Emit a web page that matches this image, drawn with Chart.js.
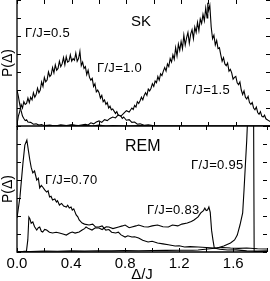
<!DOCTYPE html>
<html>
<head>
<meta charset="utf-8">
<script src="https://cdn.jsdelivr.net/npm/chart.js@4.4.1/dist/chart.umd.min.js"></script>
<style>
  html, body { margin: 0; padding: 0; background: #fff; width: 270px; height: 281px; overflow: hidden; }
  body { position: relative; font-family: "Liberation Sans", Arial, sans-serif; color: #000; }
  .box { position: absolute; left: 0; width: 270px; }
  #topBox { top: 0; height: 127px; }
  #botBox { top: 126px; height: 158px; }
  .lbl { position: absolute; line-height: 1; white-space: nowrap; font-size: 13px; letter-spacing: 0.3px; }
  .big { font-size: 15px; letter-spacing: 0; }
</style>
</head>
<body>
<div class="box" id="topBox"><canvas id="topChart" width="270" height="127"></canvas></div>
<div class="box" id="botBox"><canvas id="botChart" width="270" height="158"></canvas></div>

<div class="lbl big" style="left:131px;top:13px;">SK</div>
<div class="lbl" style="left:25px;top:26px;">Γ/J=0.5</div>
<div class="lbl" style="left:97px;top:61px;">Γ/J=1.0</div>
<div class="lbl" style="left:185px;top:83px;">Γ/J=1.5</div>
<div class="lbl big" style="left:125px;top:138px;font-size:16px;">REM</div>
<div class="lbl" style="left:45px;top:173px;">Γ/J=0.70</div>
<div class="lbl" style="left:147px;top:203px;">Γ/J=0.83</div>
<div class="lbl" style="left:191px;top:158px;">Γ/J=0.95</div>

<script>
// x range and ticks
const xMin = 0, xMax = 1.85, xStep = 0.2;
const yMax = 7;
const xTickLabels = ['0.0', '0.4', '0.8', '1.2', '1.6'];

// SK panel
const sk05X = [0, 0.01, 0.02, 0.03, 0.04, 0.05, 0.06, 0.07, 0.08, 0.1, 0.12, 0.14, 0.16, 0.18, 0.2, 0.24, 0.28, 0.32, 0.36, 0.4, 0.45, 0.5, 0.55, 0.6, 0.65, 0.7, 0.8, 0.9, 1.0, 1.2, 1.4, 1.6, 1.85];
const sk05Y = [2.0, 1.65, 1.2, 0.85, 0.55, 0.42, 0.3, 0.35, 0.22, 0.2, 0.1, 0.12, 0.05, 0.08, 0.02, 0.05, 0.0, 0.06, 0.02, 0.07, 0.0, 0.04, 0.0, 0.05, 0.0, 0.03, 0.0, 0.02, 0, 0, 0, 0, 0];

const sk10X = [0, 0.01, 0.02, 0.03, 0.04, 0.05, 0.06, 0.07, 0.08, 0.09, 0.1, 0.11, 0.12, 0.13, 0.14, 0.15, 0.16, 0.17, 0.18, 0.19, 0.2, 0.21, 0.22, 0.23, 0.24, 0.25, 0.26, 0.27, 0.28, 0.29, 0.3, 0.31, 0.32, 0.33, 0.34, 0.35, 0.36, 0.37, 0.38, 0.39, 0.4, 0.41, 0.42, 0.43, 0.44, 0.45, 0.46, 0.47, 0.48, 0.49, 0.5, 0.51, 0.52, 0.53, 0.54, 0.55, 0.56, 0.57, 0.58, 0.59, 0.6, 0.61, 0.62, 0.63, 0.64, 0.65, 0.66, 0.67, 0.68, 0.69, 0.7, 0.72, 0.73, 0.74, 0.76, 0.77, 0.78, 0.8, 0.82, 0.84, 0.86, 0.88, 0.9, 0.93, 0.96, 1.0, 1.05, 1.85];
const sk10Y = [0.1, 0.55, 0.8, 1.2, 1.0, 1.35, 1.2, 1.25, 1.55, 1.3, 1.6, 1.45, 1.85, 1.6, 1.75, 2.1, 1.85, 2.0, 2.45, 2.2, 2.7, 2.45, 2.55, 3.0, 2.75, 2.85, 3.25, 2.95, 3.4, 3.1, 3.2, 3.6, 3.3, 3.45, 3.8, 3.4, 3.85, 3.55, 3.6, 3.95, 3.6, 3.75, 3.65, 4.05, 3.6, 3.75, 4.15, 3.35, 3.55, 3.2, 3.3, 2.85, 3.1, 2.7, 2.55, 2.65, 2.2, 2.35, 1.9, 2.0, 1.85, 1.55, 1.7, 1.35, 1.45, 1.2, 1.3, 1.0, 1.1, 0.9, 0.95, 0.7, 0.8, 0.6, 0.55, 0.42, 0.5, 0.32, 0.35, 0.2, 0.22, 0.1, 0.12, 0.04, 0.06, 0.01, 0, 0];

const sk15X = [0.2, 0.3, 0.35, 0.4, 0.45, 0.5, 0.52, 0.54, 0.56, 0.58, 0.6, 0.62, 0.64, 0.66, 0.68, 0.7, 0.72, 0.74, 0.76, 0.78, 0.8, 0.82, 0.84, 0.85, 0.86, 0.87, 0.88, 0.89, 0.9, 0.91, 0.92, 0.93, 0.94, 0.95, 0.96, 0.97, 0.98, 0.99, 1.0, 1.01, 1.02, 1.03, 1.04, 1.05, 1.06, 1.07, 1.08, 1.09, 1.1, 1.11, 1.12, 1.13, 1.14, 1.15, 1.16, 1.17, 1.18, 1.19, 1.2, 1.21, 1.22, 1.23, 1.24, 1.25, 1.26, 1.27, 1.28, 1.29, 1.3, 1.31, 1.32, 1.33, 1.34, 1.35, 1.36, 1.37, 1.38, 1.39, 1.395, 1.4, 1.41, 1.42, 1.43, 1.44, 1.45, 1.46, 1.47, 1.48, 1.49, 1.5, 1.51, 1.52, 1.53, 1.54, 1.55, 1.56, 1.57, 1.58, 1.59, 1.6, 1.61, 1.62, 1.63, 1.64, 1.65, 1.66, 1.67, 1.68, 1.69, 1.7, 1.71, 1.72, 1.73, 1.74, 1.75, 1.76, 1.77, 1.78, 1.79, 1.8, 1.81, 1.82, 1.83, 1.84, 1.85];
const sk15Y = [0, 0.03, 0, 0.05, 0.02, 0.1, 0.06, 0.18, 0.12, 0.22, 0.28, 0.2, 0.35, 0.3, 0.42, 0.5, 0.45, 0.62, 0.55, 0.7, 0.85, 0.78, 1.0, 0.92, 1.15, 1.05, 1.35, 1.25, 1.4, 1.6, 1.45, 1.7, 1.85, 1.7, 2.05, 1.95, 2.1, 2.35, 2.2, 2.5, 2.4, 2.75, 2.55, 2.9, 2.8, 3.05, 3.25, 3.05, 3.45, 3.3, 3.75, 3.55, 3.95, 3.7, 4.35, 3.9, 4.55, 4.2, 4.7, 4.3, 5.05, 4.5, 4.9, 5.2, 4.6, 5.1, 5.35, 4.85, 5.5, 5.2, 5.75, 5.3, 5.95, 5.7, 6.2, 5.85, 6.55, 6.0, 6.85, 6.4, 6.7, 5.5, 4.85, 5.05, 4.5, 4.75, 4.3, 4.35, 3.95, 3.6, 3.8, 3.45, 3.35, 3.5, 3.05, 3.15, 2.95, 2.6, 2.7, 2.75, 2.4, 2.3, 2.45, 2.0, 1.75, 1.95, 1.6, 1.5, 1.65, 1.3, 1.2, 1.3, 1.0, 0.9, 1.05, 0.75, 0.65, 0.8, 0.55, 0.5, 0.6, 0.4, 0.35, 0.3, 0.25];

// REM panel
const rem070X = [0, 0.022, 0.044, 0.058, 0.073, 0.085, 0.095, 0.105, 0.117, 0.13, 0.146, 0.158, 0.168, 0.18, 0.19, 0.205, 0.219, 0.23, 0.241, 0.252, 0.263, 0.28, 0.292, 0.3, 0.314, 0.33, 0.345, 0.365, 0.375, 0.387, 0.4, 0.409, 0.42, 0.438, 0.45, 0.46, 0.482, 0.5, 0.533, 0.56, 0.58, 0.606, 0.63, 0.657, 0.68, 0.7, 0.73, 0.75, 0.77, 0.8, 0.82, 0.85, 0.87, 0.9, 0.93, 0.97, 1.0, 1.04, 1.08, 1.12, 1.17, 1.2, 1.24, 1.28, 1.34, 1.4, 1.46, 1.52, 1.58, 1.64, 1.7, 1.78, 1.85];
const rem070Y = [1.89, 3.06, 4.94, 5.94, 6.22, 5.6, 5.11, 4.7, 4.39, 4.5, 4.0, 4.1, 3.56, 3.7, 3.61, 3.45, 3.33, 3.4, 3.06, 3.1, 2.89, 2.95, 2.78, 2.85, 2.61, 2.7, 2.55, 2.5, 2.6, 2.44, 2.5, 2.33, 2.4, 2.06, 1.95, 1.78, 1.61, 1.55, 1.5, 1.55, 1.4, 1.39, 1.45, 1.22, 1.25, 1.1, 1.06, 1.1, 0.95, 0.83, 0.9, 0.83, 0.85, 0.78, 0.65, 0.56, 0.6, 0.5, 0.45, 0.4, 0.33, 0.35, 0.28, 0.3, 0.28, 0.25, 0.22, 0.25, 0.22, 0.2, 0.22, 0.18, 0.17];

const rem083X = [0, 0.04, 0.07, 0.08, 0.088, 0.095, 0.105, 0.117, 0.13, 0.146, 0.158, 0.168, 0.18, 0.19, 0.205, 0.219, 0.24, 0.263, 0.29, 0.314, 0.34, 0.365, 0.39, 0.409, 0.43, 0.46, 0.482, 0.5, 0.511, 0.53, 0.555, 0.58, 0.606, 0.63, 0.66, 0.68, 0.71, 0.752, 0.78, 0.8, 0.83, 0.85, 0.88, 0.9, 0.94, 0.97, 1.0, 1.04, 1.08, 1.12, 1.15, 1.19, 1.22, 1.26, 1.29, 1.31, 1.34, 1.36, 1.38, 1.39, 1.4, 1.41, 1.42, 1.43, 1.44, 1.45, 1.46, 1.5, 1.56, 1.62, 1.7, 1.78, 1.85];
const rem083Y = [0, 0.02, 0.05, 0.67, 1.94, 1.85, 1.6, 1.67, 1.4, 1.22, 1.35, 1.39, 1.15, 1.11, 1.25, 1.22, 1.1, 1.06, 1.1, 1.06, 1.0, 0.94, 1.05, 1.11, 1.05, 1.11, 1.22, 1.3, 1.39, 1.3, 1.22, 1.35, 1.33, 1.25, 1.4, 1.39, 1.3, 1.39, 1.45, 1.5, 1.35, 1.39, 1.45, 1.5, 1.4, 1.39, 1.45, 1.5, 1.4, 1.39, 1.5, 1.45, 1.55, 1.61, 1.7, 1.78, 1.95, 2.17, 2.3, 2.44, 2.3, 2.33, 2.5, 2.2, 1.2, 0.67, 0.22, 0.15, 0.11, 0.12, 0.06, 0.05, 0.06];

const rem095X = [0, 0.1, 0.2, 0.3, 0.4, 0.5, 0.6, 0.7, 0.8, 0.9, 1.0, 1.1, 1.2, 1.3, 1.34, 1.41, 1.48, 1.53, 1.58, 1.61, 1.63, 1.65, 1.67, 1.68, 1.69, 1.7, 1.71, 1.73, 1.75, 1.755, 1.76, 1.8, 1.85];
const rem095Y = [0.02, 0.03, 0.05, 0.04, 0.06, 0.05, 0.07, 0.06, 0.08, 0.07, 0.08, 0.09, 0.1, 0.1, 0.11, 0.17, 0.22, 0.33, 0.5, 0.67, 0.94, 1.5, 2.17, 3.44, 4.83, 6.2, 8.0, 9.0, 9.0, 0.0, 0.02, 0.03, 0.02];

const pts = (xs, ys) => xs.map((x, i) => ({ x: x, y: ys[i] }));
const line = (xs, ys) => ({ data: pts(xs, ys), borderColor: '#000', borderWidth: 1.1, pointRadius: 0, tension: 0, fill: false });

// axis frame with inward ticks on all sides
const frame = {
  id: 'frame',
  afterDatasetsDraw(chart) {
    const { ctx, chartArea: a, scales: { x, y } } = chart;
    ctx.save();
    ctx.strokeStyle = '#000';
    ctx.lineWidth = 1.3;
    ctx.beginPath();
    ctx.moveTo(a.left, a.top); ctx.lineTo(a.left, a.bottom); ctx.lineTo(a.right, a.bottom);
    ctx.stroke();
    ctx.lineWidth = 1;
    ctx.beginPath();
    for (const t of x.ticks) {
      const px = Math.round(x.getPixelForValue(t.value)) + 0.5;
      ctx.moveTo(px, a.bottom); ctx.lineTo(px, a.bottom - 4);
      ctx.moveTo(px, a.top); ctx.lineTo(px, a.top + 4);
    }
    for (const t of y.ticks) {
      const py = Math.round(y.getPixelForValue(t.value)) + 0.5;
      ctx.moveTo(a.left, py); ctx.lineTo(a.left + 4, py);
      ctx.moveTo(a.right, py); ctx.lineTo(a.right - 4, py);
    }
    ctx.stroke();
    ctx.restore();
  }
};

function makeOptions(showX, xHeight) {
  return {
    responsive: false,
    animation: false,
    devicePixelRatio: 1,
    layout: { padding: 0 },
    plugins: { legend: { display: false }, tooltip: { enabled: false } },
    scales: {
      x: {
        type: 'linear', min: xMin, max: xMax,
        grid: { display: false, drawTicks: false },
        border: { display: false },
        afterFit: (s) => { s.height = xHeight; },
        ticks: {
          display: showX, stepSize: xStep, autoSkip: false, maxRotation: 0, padding: 3,
          color: '#000', font: { family: 'Liberation Sans, Arial', size: 15 },
          callback: (v) => {
            const s = v.toFixed(1);
            return xTickLabels.includes(s) ? s : '';
          }
        },
        title: {
          display: showX, text: 'Δ/J', color: '#000', padding: { top: 0, bottom: 0 },
          font: { family: 'Liberation Sans, Arial', size: 15 }
        }
      },
      y: {
        min: 0, max: yMax,
        grid: { display: false, drawTicks: false },
        border: { display: false },
        afterFit: (s) => { s.width = 17; },
        ticks: { display: false, stepSize: 1 },
        title: {
          display: true, text: 'P(Δ)', color: '#000', padding: { top: 0, bottom: 0 },
          font: { family: 'Liberation Sans, Arial', size: 14 }
        }
      }
    }
  };
}

new Chart(document.getElementById('topChart'), {
  type: 'line',
  data: { datasets: [line(sk05X, sk05Y), line(sk10X, sk10Y), line(sk15X, sk15Y)] },
  options: makeOptions(false, 1),
  plugins: [frame]
});

new Chart(document.getElementById('botChart'), {
  type: 'line',
  data: { datasets: [line(rem070X, rem070Y), line(rem083X, rem083Y), line(rem095X, rem095Y)] },
  options: makeOptions(true, 32),
  plugins: [frame]
});
</script>
</body>
</html>
